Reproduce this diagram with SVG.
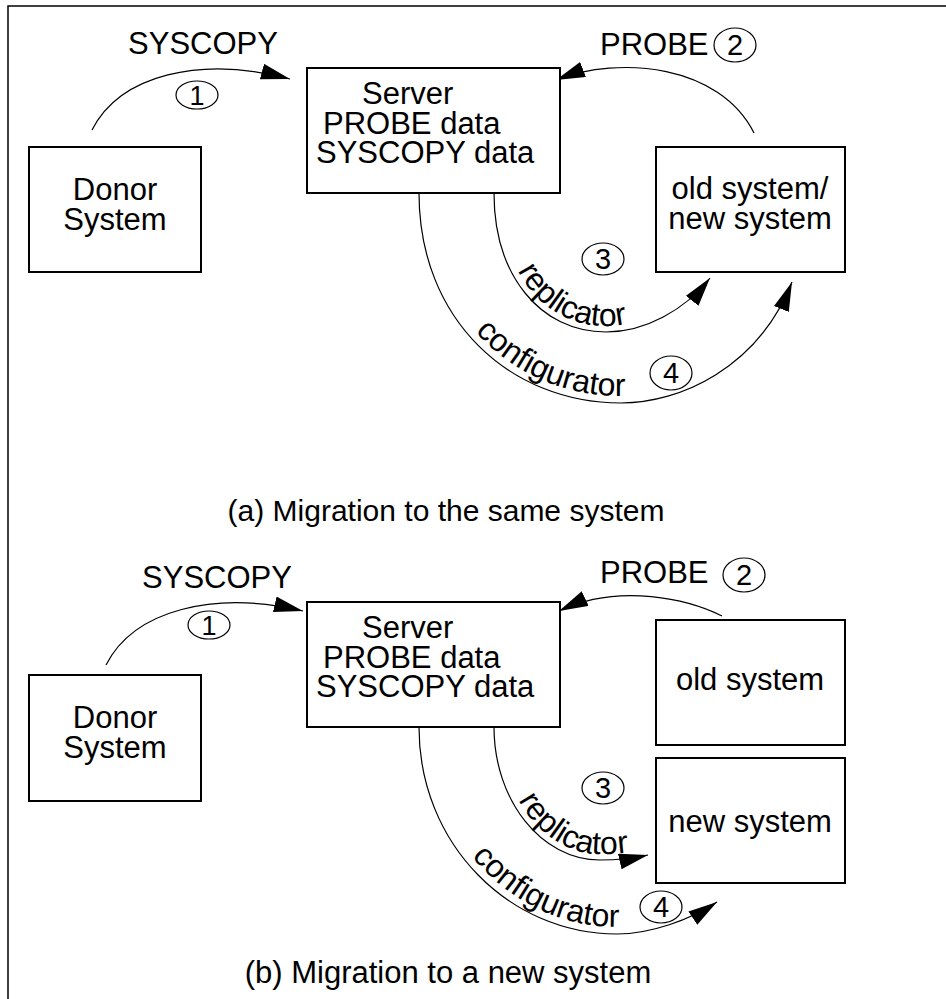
<svg xmlns="http://www.w3.org/2000/svg" width="946" height="999" viewBox="0 0 946 999">
<style>
text{font-family:"Liberation Sans",Arial,sans-serif;font-size:31px;fill:#000}
.box{fill:#fff;stroke:#000;stroke-width:2}
.edge{fill:none;stroke:#000;stroke-width:1.2}
.num{fill:none;stroke:#000;stroke-width:1.2}
.d{font-size:29px;text-anchor:middle}
.m{text-anchor:middle}
.p{font-size:32px}
</style>
<defs>
<marker id="ah" markerUnits="userSpaceOnUse" markerWidth="32" markerHeight="18" refX="29" refY="8" orient="auto">
<path d="M0,0 L29,8 L0,16 z" fill="#000"/>
</marker>
<path id="tp3a" d="M500,193 C500,272 544,326 606,326 C643,326 680,306 703,277"/>
<path id="tp4a" d="M426,193 C426,314 513,396 621,396 C676,396 750,363 783,280"/>
<path id="tp3b" d="M500,727 C500,797 545,854 600,854 C625,854 640,851 665,846"/>
<path id="tp4b" d="M426,727 C426,839 514,927 617,927 C650,927 690,914 714,897"/>
</defs>
<polyline points="8,999 8,6 946,6" fill="none" stroke="#000" stroke-width="1.5"/>

<g id="connectors">
<path class="edge" d="M92,130 C120,75 200,55 290,79" marker-end="url(#ah)"/>
<path class="edge" d="M754,133 C720,65 620,55 556,80" marker-end="url(#ah)"/>
<path class="edge" d="M494,193 C494,275 540,332 606,332 C645,332 685,310 710,278" marker-end="url(#ah)"/>
<path class="edge" d="M419,193 C419,320 510,403 621,403 C680,403 758,368 792,282" marker-end="url(#ah)"/>
<path class="edge" d="M106,665 C134,610 214,590 303,611" marker-end="url(#ah)"/>
<path class="edge" d="M722,616 C690,600 620,582 559,611" marker-end="url(#ah)"/>
<path class="edge" d="M494,727 C494,800 541,860 600,860 C620,860 635,858 648,855" marker-end="url(#ah)"/>
<path class="edge" d="M419,727 C419,845 510,934 617,934 C650,934 690,920 717,902" marker-end="url(#ah)"/>
</g>

<g id="labels-a">
<text x="203" y="54" class="m">SYSCOPY</text>
<ellipse class="num" cx="197" cy="95" rx="21" ry="14"/>
<text x="197" y="105" class="d" style="font-size:27px">1</text>
<text x="600" y="55">PROBE</text>
<ellipse class="num" cx="735" cy="45" rx="21" ry="17"/>
<text x="735" y="55" class="d">2</text>
<ellipse class="num" cx="603" cy="259" rx="21" ry="16"/>
<text x="603" y="269" class="d">3</text>
<ellipse class="num" cx="671" cy="373" rx="21" ry="17"/>
<text x="671" y="383" class="d">4</text>
<text class="p"><textPath href="#tp3a" startOffset="80">replicator</textPath></text>
<text class="p"><textPath href="#tp4a" startOffset="150">configurator</textPath></text>
</g>

<g id="donor-a">
<rect class="box" x="29" y="147" width="172" height="125"/>
<text x="115" y="200" class="m">Donor</text>
<text x="115" y="230" class="m">System</text>
</g>
<g id="server-a">
<rect class="box" x="307" y="68" width="253" height="125"/>
<text x="362" y="104">Server</text>
<text x="323" y="134">PROBE data</text>
<text x="316" y="163">SYSCOPY data</text>
</g>
<g id="oldnew-a">
<rect class="box" x="656" y="147" width="189" height="125"/>
<text x="750" y="199" class="m">old system/</text>
<text x="750" y="229" class="m">new system</text>
</g>
<text x="446" y="521" class="m" style="font-size:30px">(a) Migration to the same system</text>

<g id="labels-b">
<text x="217" y="588" class="m">SYSCOPY</text>
<ellipse class="num" cx="209" cy="625" rx="21" ry="14"/>
<text x="209" y="635" class="d" style="font-size:27px">1</text>
<text x="600" y="583">PROBE</text>
<ellipse class="num" cx="744" cy="575" rx="21" ry="17"/>
<text x="744" y="585" class="d">2</text>
<ellipse class="num" cx="603" cy="788" rx="21" ry="16"/>
<text x="603" y="798" class="d">3</text>
<ellipse class="num" cx="661" cy="907" rx="21" ry="16"/>
<text x="661" y="917" class="d">4</text>
<text class="p"><textPath href="#tp3b" startOffset="76">replicator</textPath></text>
<text class="p"><textPath href="#tp4b" startOffset="140">configurator</textPath></text>
</g>

<g id="donor-b">
<rect class="box" x="29" y="675" width="172" height="126"/>
<text x="115" y="728" class="m">Donor</text>
<text x="115" y="758" class="m">System</text>
</g>
<g id="server-b">
<rect class="box" x="307" y="602" width="253" height="125"/>
<text x="362" y="638">Server</text>
<text x="323" y="668">PROBE data</text>
<text x="316" y="697">SYSCOPY data</text>
</g>
<g id="old-b">
<rect class="box" x="656" y="620" width="189" height="125"/>
<text x="750" y="690" class="m">old system</text>
</g>
<g id="new-b">
<rect class="box" x="656" y="758" width="189" height="125"/>
<text x="750" y="832" class="m">new system</text>
</g>
<text x="448" y="983" class="m">(b) Migration to a new system</text>
</svg>
